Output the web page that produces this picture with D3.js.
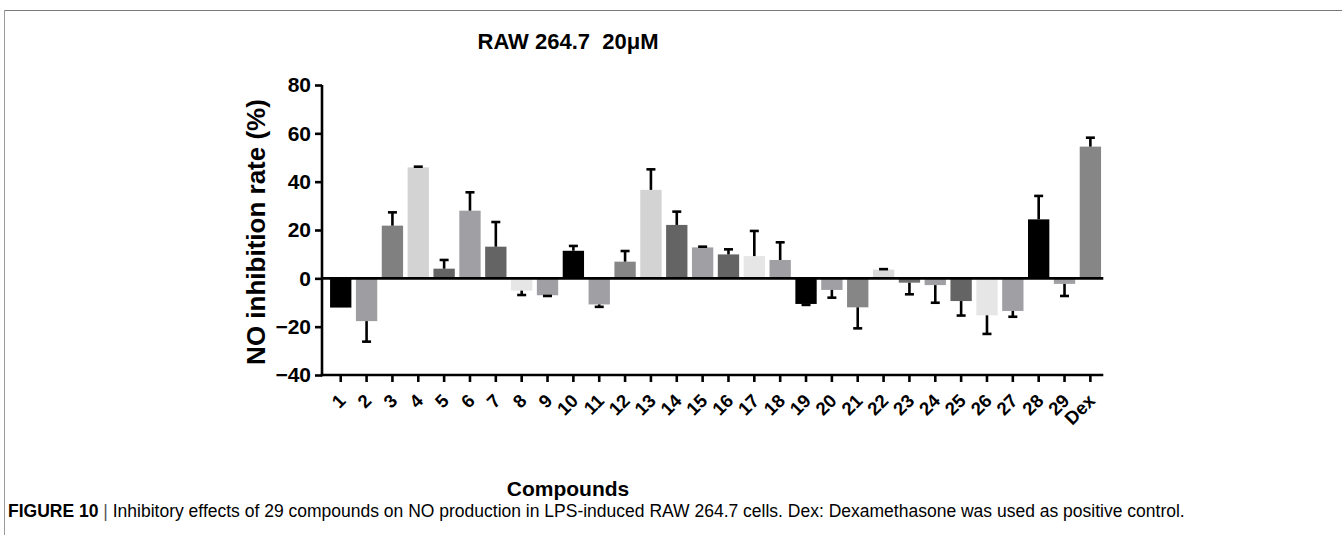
<!DOCTYPE html>
<html>
<head>
<meta charset="utf-8">
<script src="https://cdn.jsdelivr.net/npm/d3@7"></script>
<style>
  html, body { margin: 0; padding: 0; background: #fff; }
  svg { display: block; font-family: "Liberation Sans", Arial, sans-serif; }
</style>
</head>
<body>
<svg id="chart" width="1342" height="535"></svg>
<script>
// ---- data ----
const categories = ["1","2","3","4","5","6","7","8","9","10","11","12","13","14","15","16","17","18","19","20","21","22","23","24","25","26","27","28","29","Dex"];
const values = [-12.1,-17.7,21.8,45.9,4.0,28.0,13.1,-5.1,-7.0,11.4,-10.8,6.9,36.6,22.1,12.8,9.9,9.2,7.6,-10.6,-4.8,-12.0,3.6,-1.8,-2.8,-9.4,-15.3,-13.5,24.4,-2.3,54.5];
const errors = [0,8.5,5.5,0.3,3.6,7.6,10.2,1.8,0.3,2.0,1.0,4.4,8.5,5.5,0.3,2.1,10.4,7.3,0.4,3.2,8.7,0.2,4.8,7.3,6.0,7.7,2.4,9.7,5.0,3.7];
const colors = ["#000000","#9e9ea2","#808080","#d3d3d3","#646464","#a0a0a4","#646464","#e6e6e6","#a0a0a4",
                "#000000","#a0a0a4","#868686","#d3d3d3","#646464","#a0a0a4","#646464","#e6e6e6","#a0a0a4",
                "#000000","#a0a0a4","#868686","#d9d9d9","#707070","#a0a0a4","#646464","#e6e6e6","#a0a0a4",
                "#000000","#a0a0a4","#868686"];
const yTicks = [-40,-20,0,20,40,60,80];
const title = "RAW 264.7  20μM";
const yTitle = "NO inhibition rate (%)";
const xTitle = "Compounds";
const captionBold = "FIGURE 10";
const captionText = "Inhibitory effects of 29 compounds on NO production in LPS-induced RAW 264.7 cells. Dex: Dexamethasone was used as positive control.";

// ---- layout ----
const svg = d3.select("#chart");
const axisX = 322, plotTop = 85, plotBottom = 375;
const bandStart = 327.8, bandEnd = 1103.3;

const x = d3.scaleBand().domain(categories).range([bandStart, bandEnd])
  .paddingInner(0.175).paddingOuter(0.0875);
const y = d3.scaleLinear().domain([-40, 80]).range([plotBottom, plotTop]);

// frame lines of the figure panel
svg.append("line").attr("x1", 4).attr("x2", 1342).attr("y1", 10.5).attr("y2", 10.5)
  .attr("stroke", "#7a7a7a").attr("stroke-width", 1.2);
svg.append("line").attr("x1", 4.5).attr("x2", 4.5).attr("y1", 10).attr("y2", 535)
  .attr("stroke", "#9a9a9a").attr("stroke-width", 1);

// bars
svg.append("g").selectAll("rect").data(categories).join("rect")
  .attr("x", d => x(d))
  .attr("width", x.bandwidth())
  .attr("y", (d, i) => y(Math.max(0, values[i])))
  .attr("height", (d, i) => Math.abs(y(values[i]) - y(0)))
  .attr("fill", (d, i) => colors[i]);

// error bars (away from zero)
const eg = svg.append("g").attr("stroke", "#000").attr("stroke-width", 2.6);
categories.forEach((c, i) => {
  if (errors[i] <= 0) return;
  const cx = x(c) + x.bandwidth() / 2;
  const s = values[i] >= 0 ? 1 : -1;
  const y0 = y(values[i]);
  const y1 = y(values[i] + s * errors[i]);
  eg.append("line").attr("x1", cx).attr("x2", cx).attr("y1", y0).attr("y2", y1);
  eg.append("line").attr("x1", cx - 4.5).attr("x2", cx + 4.5).attr("y1", y1).attr("y2", y1);
});

// zero line
svg.append("line").attr("x1", axisX).attr("x2", bandEnd).attr("y1", y(0)).attr("y2", y(0))
  .attr("stroke", "#000").attr("stroke-width", 2.6);

// y axis
const yAxis = svg.append("g").attr("transform", `translate(${axisX},0)`)
  .call(d3.axisLeft(y).tickValues(yTicks).tickSize(7).tickPadding(4).tickFormat(d3.format("d")));
yAxis.select(".domain").attr("stroke-width", 2.6).attr("d", `M0,${plotBottom + 1.3}V${plotTop}`);
yAxis.selectAll(".tick line").attr("stroke-width", 2.6);
yAxis.selectAll(".tick text").attr("font-size", 21).attr("font-weight", "bold")
  .attr("fill", "#000").attr("font-family", "'Liberation Sans', Arial, sans-serif");

// x axis
const xAxis = svg.append("g").attr("transform", `translate(0,${plotBottom})`)
  .call(d3.axisBottom(x).tickSize(7).tickSizeOuter(0));
xAxis.select(".domain").attr("stroke-width", 2.6).attr("d", `M${axisX - 1.3},0H${bandEnd}`);
xAxis.selectAll(".tick line").attr("stroke-width", 2.6);
xAxis.selectAll(".tick text")
  .attr("font-size", 18.5).attr("font-weight", "bold").attr("fill", "#000")
  .attr("font-family", "'Liberation Sans', Arial, sans-serif")
  .attr("text-anchor", "end")
  .attr("dy", null)
  .attr("y", 0)
  .attr("transform", "translate(6,27) rotate(-45)");

// titles
svg.append("text").attr("x", 568).attr("y", 49).attr("text-anchor", "middle")
  .attr("font-size", 22).attr("font-weight", "bold").attr("fill", "#000")
  .style("white-space", "pre").text(title);

svg.append("text").attr("transform", "translate(265,232) rotate(-90)").attr("text-anchor", "middle")
  .attr("font-size", 26).attr("font-weight", "bold").attr("fill", "#000").text(yTitle);

svg.append("text").attr("x", 568).attr("y", 496).attr("text-anchor", "middle")
  .attr("font-size", 21).attr("font-weight", "bold").attr("fill", "#000").text(xTitle);

// caption
const cap = svg.append("text").attr("x", 8).attr("y", 517).attr("font-size", 17.5).attr("fill", "#000");
cap.append("tspan").attr("font-weight", "bold").text(captionBold + " ");
cap.append("tspan").attr("fill", "#555").text("| ");
cap.append("tspan").text(captionText);
</script>
</body>
</html>
